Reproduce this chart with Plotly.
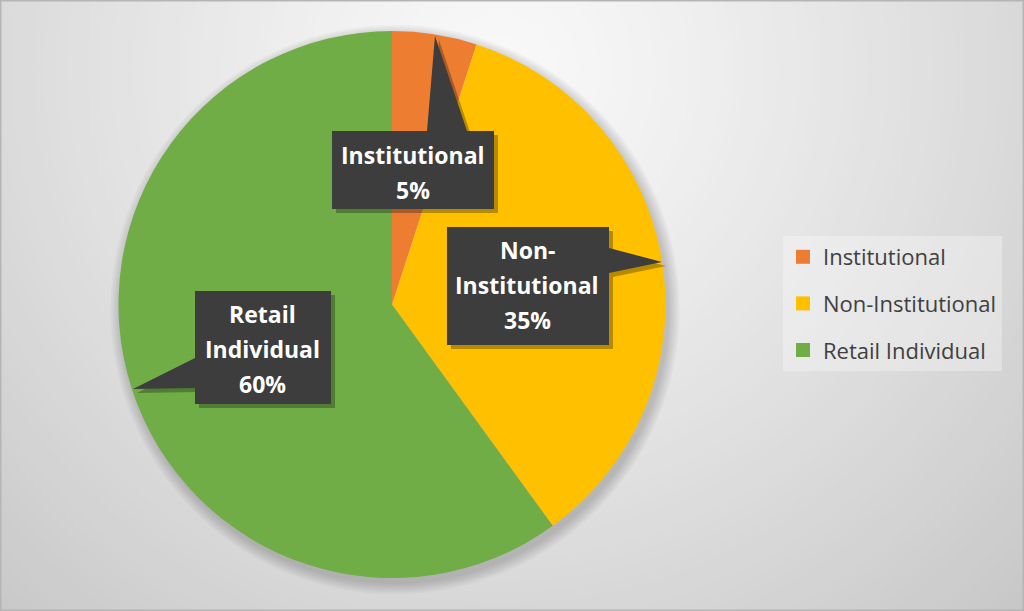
import plotly.graph_objects as go

# data
categories = ['Institutional', 'Non-Institutional', 'Retail Individual']
shares = [5, 35, 60]
callout_lines = [['Institutional'], ['Non-', 'Institutional'], ['Retail', 'Individual']]
colors = ['#ED7D31', '#FFC000', '#70AD47']

W, H = 1024, 611

def px(x):
    return x / W

def py(y):
    return 1 - y / H

def path(points):
    s = 'M ' + ' L '.join('{:.5f},{:.5f}'.format(px(a), py(b)) for a, b in points)
    return s + ' Z'

shapes = []

# background gradient (concentric rings, light near top middle)
cx, cy = 500, 70
n_rings = 90
for i in range(n_rings, 0, -1):
    r = 1000 * i / n_rings
    t = min(r / 760, 1.0)
    g = int(round(249 - 50 * t ** 1.2))
    shapes.append(dict(type='circle', xref='paper', yref='paper', layer='below',
                       x0=px(cx - r), x1=px(cx + r), y0=py(cy + r), y1=py(cy - r),
                       fillcolor='rgb({0},{0},{0})'.format(g), line_width=0))

# soft shadow behind the pie
pcx, pcy, pr = 392, 304.5, 273.5
for k in range(1, 13, 2):
    shapes.append(dict(type='circle', xref='paper', yref='paper', layer='below',
                       x0=px(pcx + 3 - pr - k), x1=px(pcx + 3 + pr + k),
                       y0=py(pcy + 5 + pr + k), y1=py(pcy + 5 - pr - k),
                       fillcolor='rgba(0,0,0,0.03)', line_width=0))

# callout boxes (pixel outlines)
callouts = [
    [(332, 131), (427, 131), (435, 36), (467, 131), (494, 131), (494, 209), (332, 209)],
    [(447, 227), (609, 227), (609, 248), (662, 262), (609, 273), (609, 345), (447, 345)],
    [(195, 291), (331, 291), (331, 404), (195, 404), (195, 388), (133, 389), (195, 358)],
]
label_pos = [(413, 172.5), (527, 285), (262, 348.5)]
line_gap = 35

for pts in callouts:
    shadow = [(a + 4, b + 4) for a, b in pts]
    shapes.append(dict(type='path', xref='paper', yref='paper', layer='above',
                       path=path(shadow), fillcolor='rgba(0,0,0,0.28)', line_width=0))
    shapes.append(dict(type='path', xref='paper', yref='paper', layer='above',
                       path=path(pts), fillcolor='#3d3d3d', line_width=0))

# outer border
shapes.append(dict(type='rect', xref='paper', yref='paper', layer='above',
                   x0=0, x1=1, y0=0, y1=1, line=dict(color='#b5b5b5', width=3)))

fig = go.Figure()

fig.add_trace(go.Pie(
    labels=categories,
    values=shares,
    sort=False,
    direction='clockwise',
    rotation=0,
    marker=dict(colors=colors, line=dict(width=0)),
    textinfo='none',
    hoverinfo='label+percent',
    showlegend=False,
    domain=dict(x=[px(pcx - pr), px(pcx + pr)], y=[py(pcy + pr), py(pcy - pr)]),
))

# legend entries (one group each so the spacing can be set)
for i in range(len(categories)):
    fig.add_trace(go.Scatter(
        x=[None], y=[None], mode='markers', name=categories[i],
        legendgroup=categories[i],
        marker=dict(symbol='square', size=14, color=colors[i]),
        showlegend=True,
    ))

annotations = []
for i in range(len(categories)):
    lines = callout_lines[i] + ['{}%'.format(shares[i])]
    x0, yc = label_pos[i]
    for j, txt in enumerate(lines):
        yy = yc + (j - (len(lines) - 1) / 2) * line_gap
        annotations.append(dict(
            x=px(x0), y=py(yy), xref='paper', yref='paper',
            xanchor='center', yanchor='middle',
            text='<b>{}</b>'.format(txt),
            showarrow=False, align='center',
            font=dict(family='Open Sans', size=23, color='white'),
        ))

fig.update_layout(
    width=W, height=H,
    margin=dict(l=0, r=0, t=0, b=0),
    paper_bgcolor='#d6d6d6',
    plot_bgcolor='rgba(0,0,0,0)',
    xaxis=dict(visible=False),
    yaxis=dict(visible=False),
    shapes=shapes,
    annotations=annotations,
    showlegend=True,
    legend=dict(
        x=px(783), y=py(236), xanchor='left', yanchor='top',
        bgcolor='rgba(255,255,255,0.3)',
        font=dict(family='Open Sans', size=22, color='#404040'),
        tracegroupgap=15,
        itemclick=False,
    ),
)

fig.write_html('out.html', config={'displayModeBar': False},
               post_script="document.body.style.margin='0';")
